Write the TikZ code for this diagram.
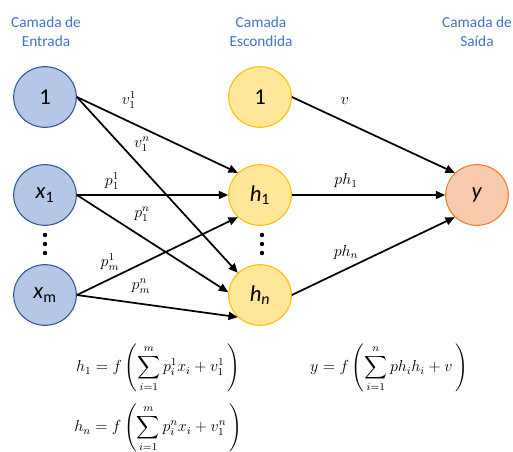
\documentclass[tikz,border=0pt]{standalone}
\usepackage{amsmath}
\usepackage{fontspec}
\setmainfont{Carlito}
\usepackage{tikz}
\usetikzlibrary{arrows.meta,shapes.geometric}
\definecolor{titleblue}{RGB}{68,114,196}
\definecolor{inbg}{RGB}{180,199,231}
\definecolor{inborder}{RGB}{47,85,151}
\definecolor{hidbg}{RGB}{255,230,153}
\definecolor{hidborder}{RGB}{255,192,0}
\definecolor{outbg}{RGB}{248,203,173}
\definecolor{outborder}{RGB}{237,125,49}

\begin{document}
\begin{tikzpicture}[
    x={(0.75pt,0)}, y={(0,-0.75pt)},
    neuron/.style={ellipse, draw, line width=0.8pt, minimum width=47pt,
                   minimum height=45.5pt, inner sep=0pt, font=\fontsize{17}{20}\selectfont},
    inn/.style={neuron, fill=inbg, draw=inborder},
    hid/.style={neuron, fill=hidbg, draw=hidborder},
    outn/.style={neuron, fill=outbg, draw=outborder},
    title/.style={text=titleblue, align=center, font=\fontsize{11.5}{14.5}\selectfont},
    wlbl/.style={font=\fontsize{12}{14}\selectfont, inner sep=1pt},
    eq/.style={font=\fontsize{12}{14}\selectfont},
    arr/.style={-{Triangle[length=7pt,width=6pt]}, line width=1.3pt}
]
    \useasboundingbox (0,0) rectangle (513,452);

    \node[title] (tin)  at (46,32)  {Camada de\\Entrada};
    \node[title] (thid) at (261,32) {Camada\\Escondida};
    \node[title] (tout) at (477,32) {Camada de\\Saída};

    \node[inn] (in1) at (45,97)  {1};
    \node[inn] (x1)  at (45,195) {\textit{x}\textsubscript{1}};
    \node[inn] (xm)  at (45,295) {\textit{x}\textsubscript{m}};
    \node[hid] (hid1) at (260,97)  {1};
    \node[hid] (h1)   at (260,195) {\textit{h}\textsubscript{1}};
    \node[hid] (hn)   at (260,295) {\textit{h}\textsubscript{\textit{n}}};
    \node[outn] (y)   at (477,195) {\textit{y}};

    \foreach \d in {235,244,253} {
        \fill (45,\d) circle (2.2);
        \fill (262,\d) circle (2.2);
    }

    \draw[arr] (in1.east) -- (h1.135);
    \draw[arr] (in1.east) -- (hn.135);
    \draw[arr] (x1.east) -- (h1.west);
    \draw[arr] (x1.east) -- (hn.175);
    \draw[arr] (xm.east) -- (h1.225);
    \draw[arr] (xm.east) -- (hn.225);
    \draw[arr] (hid1.east) -- (y.135);
    \draw[arr] (h1.east) -- (y.west);
    \draw[arr] (hn.east) -- (y.225);

    \node[wlbl] (lv11) at (129,100) {$v_1^1$};
    \node[wlbl] (lv1n) at (142,144) {$v_1^n$};
    \node[wlbl] (lp11) at (112,181) {$p_1^1$};
    \node[wlbl] (lp1n) at (142,214) {$p_1^n$};
    \node[wlbl] (lpm1) at (110,262) {$p_m^1$};
    \node[wlbl] (lpmn) at (141,286) {$p_m^n$};
    \node[wlbl] (lv)   at (345,101) {$v$};
    \node[wlbl] (lph1) at (346,181) {$ph_1$};
    \node[wlbl] (lphn) at (346,252) {$ph_n$};

    \node[eq] (eqh1) at (158,368) {$\displaystyle h_1 = f\left(\sum_{i=1}^{m} p_i^1 x_i + v_1^1\,\right)$};
    \node[eq] (eqhn) at (158,428) {$\displaystyle h_n = f\left(\sum_{i=1}^{m} p_i^n x_i + v_1^n\,\right)$};
    \node[eq] (eqy)  at (389,368) {$\displaystyle y = f\left(\sum_{i=1}^{n} ph_i h_i + v\,\right)$};
\end{tikzpicture}
\end{document}
